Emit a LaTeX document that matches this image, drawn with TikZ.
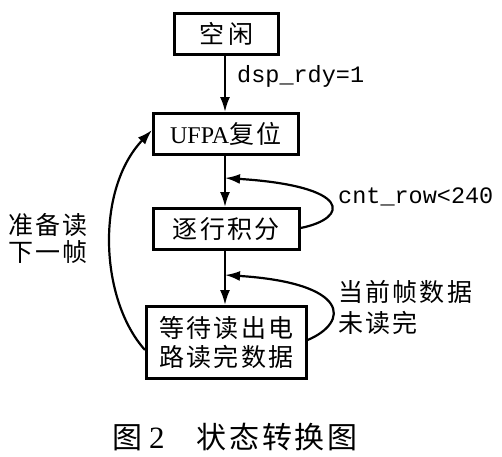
\documentclass[tikz,border=0pt]{standalone}
\usepackage{fontspec}
\setmainfont{Liberation Serif}
\setmonofont{Liberation Mono}
\newfontfamily\cjk[LetterSpace=9]{Noto Sans CJK SC}
\usetikzlibrary{arrows.meta}
\tikzset{
  statebox/.style={draw, line width=2.6pt, inner sep=0pt, anchor=north west, align=center, font=\fontsize{25}{29}\selectfont\cjk},
  flow/.style={line width=2.2pt, -{Latex[length=15pt,width=10pt]}},
  lbl/.style={inner sep=0pt, align=left, font=\fontsize{23.5}{28}\selectfont\ttfamily},
  cjklbl/.style={inner sep=0pt, align=left, font=\fontsize{25}{29}\selectfont\cjk},
}
\begin{document}
\begin{tikzpicture}[x=1pt,y=-1pt]
\useasboundingbox (0,0) rectangle (502,456);
\node[statebox, minimum width=104pt, minimum height=41pt] (idle) at (173,12) {空\,闲};
\node[statebox, minimum width=145pt, minimum height=41pt] (ufpa) at (152,112) {{\rmfamily\fontsize{24}{28}\selectfont UFPA}复位};
\node[statebox, minimum width=146pt, minimum height=41pt] (integ) at (152,207) {逐行积分};
\node[statebox, minimum width=160pt, minimum height=72pt] (wait) at (145,305) {等待读出电\\路读完数据};

\coordinate (j1) at (225,178);
\coordinate (j2) at (225,275);

\draw[flow] (idle.south -| 225,0) -- (ufpa.north -| 225,0);
\draw[flow] (ufpa.south -| 225,0) -- (integ.north -| 225,0);
\draw[flow] (integ.south -| 225,0) -- (wait.north -| 225,0);

\draw[flow] (integ.east |- 0,228) .. controls (350,218) and (352,186) .. (j1);
\draw[flow] (wait.east |- 0,340) .. controls (350,322) and (350,283) .. (j2);
\draw[flow] (wait.west |- 0,350) .. controls (100,300) and (95,190) .. (ufpa.west |- 0,130);

\node[lbl, anchor=west] (l1) at (237,76) {dsp\_rdy=1};
\node[lbl, anchor=west] (l2) at (338,197) {cnt\_row<240};
\node[cjklbl, anchor=west, font=\fontsize{25}{27}\selectfont\cjk] (l3) at (8,238) {准备读\\下一帧};
\node[cjklbl, anchor=west, font=\fontsize{25}{31}\selectfont\cjk] (l4) at (338,307) {当前帧数据\\未读完};
\node[inner sep=0pt, font=\fontsize{30}{34}\selectfont\cjk, anchor=west] (cap) at (112,437) {图\hspace{7pt}{\rmfamily\fontsize{31}{34}\selectfont 2}\hspace{32pt}状态转换图};
\end{tikzpicture}
\end{document}
